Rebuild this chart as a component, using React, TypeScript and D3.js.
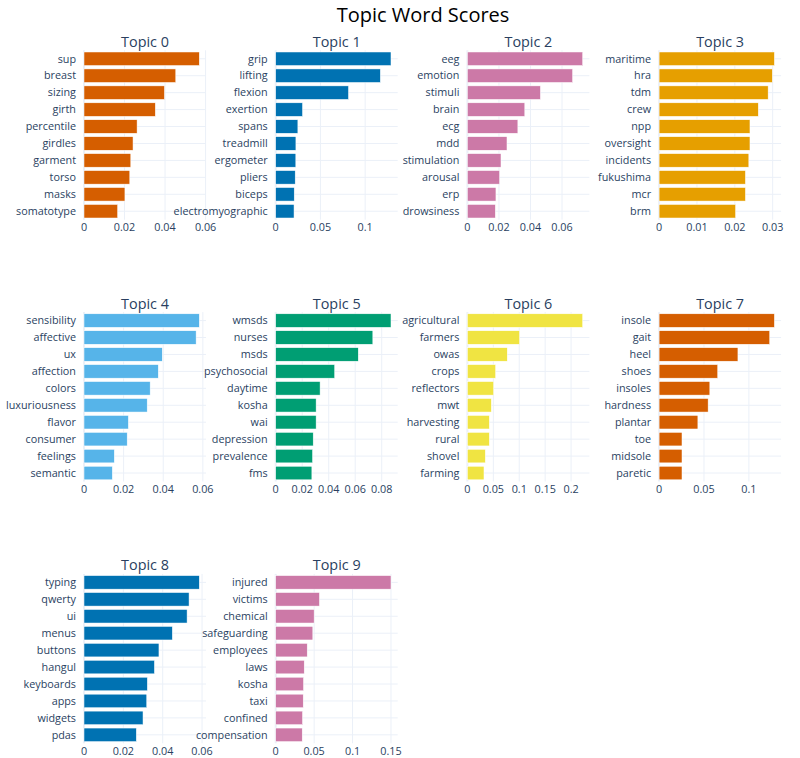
import React from "react";
import * as d3 from "d3";

const topicTitles = ["Topic 0", "Topic 1", "Topic 2", "Topic 3", "Topic 4", "Topic 5", "Topic 6", "Topic 7", "Topic 8", "Topic 9"];

const topicWords: string[][] = [
  ["sup", "breast", "sizing", "girth", "percentile", "girdles", "garment", "torso", "masks", "somatotype"],
  ["grip", "lifting", "flexion", "exertion", "spans", "treadmill", "ergometer", "pliers", "biceps", "electromyographic"],
  ["eeg", "emotion", "stimuli", "brain", "ecg", "mdd", "stimulation", "arousal", "erp", "drowsiness"],
  ["maritime", "hra", "tdm", "crew", "npp", "oversight", "incidents", "fukushima", "mcr", "brm"],
  ["sensibility", "affective", "ux", "affection", "colors", "luxuriousness", "flavor", "consumer", "feelings", "semantic"],
  ["wmsds", "nurses", "msds", "psychosocial", "daytime", "kosha", "wai", "depression", "prevalence", "fms"],
  ["agricultural", "farmers", "owas", "crops", "reflectors", "mwt", "harvesting", "rural", "shovel", "farming"],
  ["insole", "gait", "heel", "shoes", "insoles", "hardness", "plantar", "toe", "midsole", "paretic"],
  ["typing", "qwerty", "ui", "menus", "buttons", "hangul", "keyboards", "apps", "widgets", "pdas"],
  ["injured", "victims", "chemical", "safeguarding", "employees", "laws", "kosha", "taxi", "confined", "compensation"],
];

const topicScores: number[][] = [
  [0.0569, 0.0453, 0.0397, 0.0352, 0.0262, 0.0242, 0.0231, 0.0226, 0.0202, 0.0166],
  [0.1289, 0.117, 0.0814, 0.03, 0.0248, 0.0226, 0.0225, 0.0218, 0.0207, 0.0205],
  [0.0731, 0.0667, 0.0463, 0.0364, 0.032, 0.0251, 0.0213, 0.0204, 0.0181, 0.0177],
  [0.03045, 0.0299, 0.0288, 0.0262, 0.024, 0.024, 0.0237, 0.0228, 0.0228, 0.0202],
  [0.0582, 0.0566, 0.0395, 0.0375, 0.0334, 0.0319, 0.0224, 0.0218, 0.0153, 0.0143],
  [0.087, 0.0733, 0.0623, 0.0445, 0.0335, 0.0305, 0.0305, 0.0283, 0.0278, 0.0273],
  [0.2224, 0.1006, 0.0769, 0.0545, 0.0506, 0.0462, 0.0423, 0.0423, 0.0346, 0.032],
  [0.1284, 0.1232, 0.0878, 0.0653, 0.0565, 0.0546, 0.0432, 0.0255, 0.0255, 0.0255],
  [0.0586, 0.0534, 0.0524, 0.0449, 0.0381, 0.0358, 0.0322, 0.0319, 0.03, 0.0266],
  [0.15, 0.0569, 0.05, 0.0483, 0.041, 0.0371, 0.0362, 0.0358, 0.0349, 0.0345],
];

const topicTicks: number[][] = [
  [0, 0.02, 0.04, 0.06],
  [0, 0.05, 0.1],
  [0, 0.02, 0.04, 0.06],
  [0, 0.01, 0.02, 0.03],
  [0, 0.02, 0.04, 0.06],
  [0, 0.02, 0.04, 0.06, 0.08],
  [0, 0.05, 0.1, 0.15, 0.2],
  [0, 0.05, 0.1],
  [0, 0.02, 0.04, 0.06],
  [0, 0.05, 0.1, 0.15],
];

const topicColors = ["#D55E00", "#0072B2", "#CC79A7", "#E69F00", "#56B4E9", "#009E73", "#F0E442", "#D55E00", "#0072B2", "#CC79A7"];

const W = 800;
const H = 758;
const LEFT = 84;
const COL_PITCH = 191.7;
const PLOT_W = 122;
const TOP = 50.3;
const ROW_PITCH = 261.8;
const PLOT_H = 169.4;
const FONT = '"Open Sans", verdana, arial, sans-serif';
const TEXT_COLOR = "#2a3f5f";
const GRID = "#EBF0F8";

function fmt(v: number) {
  return v === 0 ? "0" : String(+v.toFixed(3));
}

function Panel({ i }: { i: number }) {
  const r = Math.floor(i / 4);
  const c = i % 4;
  const x0 = LEFT + c * COL_PITCH;
  const y0 = TOP + r * ROW_PITCH;
  const words = topicWords[i];
  const scores = topicScores[i];
  const maxV = d3.max(scores) as number;
  const x = d3.scaleLinear().domain([0, maxV / 0.945]).range([x0, x0 + PLOT_W]);
  const y = d3.scaleBand<string>().domain(words).range([y0, y0 + PLOT_H]).paddingInner(0.2).paddingOuter(0.1);
  const step = y.step();
  return (
    <g>
      {words.map((w) => (
        <line key={"hg" + w} x1={x0} x2={x0 + PLOT_W} y1={(y(w) as number) + y.bandwidth() / 2} y2={(y(w) as number) + y.bandwidth() / 2} stroke={GRID} strokeWidth={1} />
      ))}
      {topicTicks[i].map((t) => (
        <line key={"vg" + t} x1={x(t)} x2={x(t)} y1={y0} y2={y0 + PLOT_H} stroke={GRID} strokeWidth={t === 0 ? 2 : 1} />
      ))}
      {words.map((w, k) => (
        <rect key={"b" + w} x={x(0)} y={y(w) as number} width={x(scores[k]) - x(0)} height={y.bandwidth()} fill={topicColors[i]} stroke="white" strokeWidth={0.5} />
      ))}
      {words.map((w) => (
        <text key={"yl" + w} x={x0 - 8} y={(y(w) as number) + y.bandwidth() / 2} dy="0.35em" textAnchor="end" fontSize={10.8} fill={TEXT_COLOR} fontFamily={FONT}>
          {w}
        </text>
      ))}
      {topicTicks[i].map((t) => (
        <text key={"xl" + t} x={x(t)} y={y0 + PLOT_H + 11.5} textAnchor="middle" fontSize={10.8} fill={TEXT_COLOR} fontFamily={FONT}>
          {fmt(t)}
        </text>
      ))}
      <text x={x0 + PLOT_W / 2} y={y0 - 3.5} textAnchor="middle" fontSize={14.4} fill={TEXT_COLOR} fontFamily={FONT}>
        {topicTitles[i]}
      </text>
    </g>
  );
}

export default function App() {
  return (
    <div style={{ position: "absolute", left: 0, top: 0, width: W, height: H, background: "white" }}>
      <svg width={W} height={H} style={{ display: "block" }}>
        <rect x={0} y={0} width={W} height={H} fill="white" />
        <text x={423} y={22} textAnchor="middle" fontSize={20} fill="black" fontFamily={FONT}>
          Topic Word Scores
        </text>
        {topicTitles.map((_, i) => (
          <Panel key={i} i={i} />
        ))}
      </svg>
    </div>
  );
}
